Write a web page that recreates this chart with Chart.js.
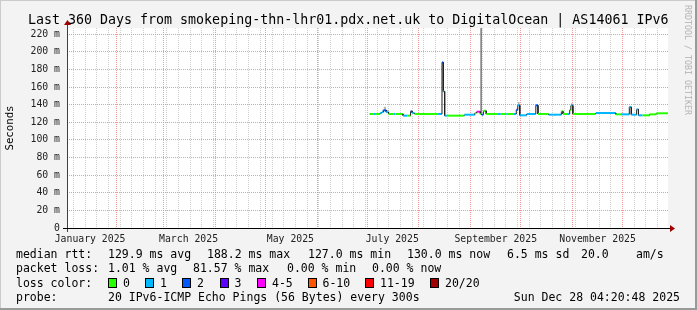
<!DOCTYPE html>
<html><head><meta charset="utf-8">
<script src="https://cdn.jsdelivr.net/npm/chart.js@4/dist/chart.umd.min.js"></script>
<style>
html,body{margin:0;padding:0;background:#f3f3f3;}
#wrap{position:relative;width:697px;height:310px;overflow:hidden;font-family:"DejaVu Sans Mono",monospace;color:#000;}
#c{position:absolute;left:0;top:0;}
.t{position:absolute;white-space:pre;font-size:11.5px;line-height:14px;}
.title{position:absolute;left:28px;top:12px;white-space:pre;font-size:13.3px;line-height:16px;}
.ylab{position:absolute;left:-40px;top:121px;width:100px;text-align:center;font-size:10.7px;line-height:14px;transform:rotate(-90deg);white-space:nowrap;}
.rrd{position:absolute;left:628px;top:55px;width:120px;text-align:center;font-size:8.3px;line-height:10px;color:#b4b4b4;transform:rotate(90deg);white-space:nowrap;}
.sw{position:absolute;width:7px;height:8px;border:1px solid #000;}
</style></head>
<body>
<div id="wrap">
<canvas id="c" width="697" height="310"></canvas>
<div class="title">Last 360 Days from smokeping-thn-lhr01.pdx.net.uk to DigitalOcean | AS14061 IPv6</div>
<div class="ylab">Seconds</div>
<div class="rrd">RRDTOOL / TOBI OETIKER</div>
</div>
<script>
// ---- time axis (days since 1 Jan 2025, local) ----
const START_DAY = 1.18;        // Jan 2 2025 04:20
const END_DAY = 361.18;        // Dec 28 2025 04:20
const MONTH_START_DAYS = [31, 59, 90, 120, 151, 181, 212, 243, 273, 304, 334];
const LABEL_DAYS = [15, 74, 135, 196, 258, 319];
const MONTH_LABELS = ['January 2025', 'March 2025', 'May 2025', 'July 2025', 'September 2025', 'November 2025'];

// ---- measurements (step starts, median rtt in ms, loss bucket, smoke top in ms) ----
const days   = [182.4, 185.0, 186.2, 188.8, 189.8, 190.8, 192.4, 193.8, 196.9, 197.9, 202.5, 204.9, 207.0, 208.0, 209.4, 223.5, 225.8, 226.6, 227.4, 228.7, 239.2, 245.5, 246.6, 248.8, 249.6, 250.6, 252.3, 259.4, 261.0, 263.8, 264.6, 268.5, 270.3, 271.2, 272.4, 276.5, 282.0, 283.3, 289.7, 297.3, 298.3, 300.8, 302.3, 303.0, 304.2, 317.9, 330.0, 333.0, 338.0, 339.2, 342.4, 343.5, 346.0, 350.2, 354.2];
const median = [129.4, 129.4, 129.4, 130.5, 131.5, 133.6, 131.5, 129.4, 129.4, 129.4, 127.5, 127.5, 132.4, 130.5, 129.4, 129.4, 188.0, 155.0, 127.5, 127.5, 128.6, 130.5, 132.0, 129.4, 128.6, 133.0, 129.4, 129.4, 129.4, 129.4, 129.4, 129.4, 134.0, 139.3, 127.9, 129.4, 139.3, 129.4, 128.6, 132.4, 129.4, 129.4, 134.0, 139.0, 129.4, 130.5, 129.0, 129.0, 137.4, 128.6, 134.7, 127.9, 127.9, 129.0, 130.2];
const loss   = [0, 1, 0, 1, 1, 2, 1, 0, 1, 0, 1, 0, 2, 1, 0, 1, 2, 1, 1, 0, 1, 0, 4, 0, 2, 0, 0, 1, 0, 1, 0, 1, 2, 1, 1, 1, 2, 0, 1, 0, 0, 1, 0, 1, 0, 1, 0, 1, 1, 1, 1, 1, 0, 0, 0];
const smoke  = [null, null, null, null, 134.5, 137.5, 134.0, null, null, null, null, null, null, null, null, null, null, null, null, null, null, null, null, 400, null, null, null, null, null, null, null, null, 136.0, 143.0, null, null, null, null, null, null, null, null, null, 141.5, null, null, null, null, 138.5, null, null, null, null, null, null];

const LOSS_COLORS = ['#26ff00', '#00b8ff', '#0059ff', '#5e00ff', '#ff00ff', '#ff5500', '#ff0000', '#a00000'];
const LOSS_LABELS = ['0', '1', '2', '3', '4-5', '6-10', '11-19', '20/20'];

// ---- legend text ----
const LEGEND_ROWS = [
  [[16, 'median rtt:'], [108, '129.9 ms avg'], [207, '188.2 ms max'], [308, '127.0 ms min'], [407, '130.0 ms now'], [507, '6.5 ms sd'], [581, '20.0'], [636, 'am/s']],
  [[16, 'packet loss:'], [108, '1.01 % avg'], [193, '81.57 % max'], [287, '0.00 % min'], [372, '0.00 % now']],
  [[16, 'loss color:']],
  [[16, 'probe:'], [108, '20 IPv6-ICMP Echo Pings (56 Bytes) every 300s']]
];
const SWATCH_X = [108, 145, 182, 219.5, 257, 307.5, 365, 430];
const ROW_TOP = [247, 261, 275.5, 289.5];
const STAMP = 'Sun Dec 28 04:20:48 2025';

const wrap = document.getElementById('wrap');
LEGEND_ROWS.forEach((row, r) => row.forEach(([x, s]) => {
  const d = document.createElement('div'); d.className = 't'; d.style.left = x + 'px'; d.style.top = ROW_TOP[r] + 'px'; d.textContent = s; wrap.appendChild(d);
}));
LOSS_LABELS.forEach((lab, i) => {
  const b = document.createElement('div'); b.className = 'sw'; b.style.left = SWATCH_X[i] + 'px'; b.style.top = '278px'; b.style.background = LOSS_COLORS[i]; wrap.appendChild(b);
  const d = document.createElement('div'); d.className = 't'; d.style.left = (SWATCH_X[i] + 15) + 'px'; d.style.top = ROW_TOP[2] + 'px'; d.textContent = lab; wrap.appendChild(d);
});
{ const d = document.createElement('div'); d.className = 't'; d.style.right = '17px'; d.style.top = ROW_TOP[3] + 'px'; d.textContent = STAMP; wrap.appendChild(d); }

// ---- step points from the arrays ----
function stepPoints(vals) {
  const pts = [];
  for (let i = 0; i < days.length; i++) {
    const x1 = i + 1 < days.length ? days[i + 1] : END_DAY;
    pts.push({ x: days[i], y: vals[i] }, { x: x1, y: vals[i] });
  }
  return pts;
}
const smokeTop = median.map((m, i) => smoke[i] == null ? m : smoke[i]);

// ---- x ticks: month starts (major), Mondays (minor), mid-month labels ----
const tickKind = new Map();
for (let d = 5; d <= END_DAY; d += 7) if (d >= START_DAY) tickKind.set(d, 'minor');
MONTH_START_DAYS.forEach(d => tickKind.set(d, 'major'));
LABEL_DAYS.forEach((d, i) => { if (!tickKind.has(d)) tickKind.set(d, 'label'); });
const labelMap = new Map(LABEL_DAYS.map((d, i) => [d, MONTH_LABELS[i]]));
const xTickValues = [...tickKind.keys()].sort((a, b) => a - b);

const MAJOR = 'rgba(235,120,120,0.75)';
const MINOR = 'rgba(160,160,160,0.5)';
const tickFont = { family: 'DejaVu Sans Mono', size: 9.8 };

const bgPlugin = {
  id: 'bg',
  beforeDraw(chart) {
    const { ctx, chartArea: a, width, height } = chart;
    ctx.save();
    ctx.fillStyle = '#f3f3f3'; ctx.fillRect(0, 0, width, height);
    ctx.fillStyle = '#cbcbcb'; ctx.fillRect(0, 0, width, 1); ctx.fillRect(0, 0, 1, height);
    ctx.fillStyle = '#999999'; ctx.fillRect(0, height - 2, width, 2); ctx.fillRect(width - 2, 0, 2, height);
    ctx.fillStyle = '#ffffff'; ctx.fillRect(a.left, a.top, a.right - a.left, a.bottom - a.top);
    ctx.restore();
  },
  afterDraw(chart) {
    const { ctx, chartArea: a } = chart;
    ctx.save();
    ctx.lineWidth = 1;
    ctx.strokeStyle = '#404040';
    ctx.beginPath(); ctx.moveTo(a.left + 0.5, a.bottom + 4); ctx.lineTo(a.left + 0.5, a.top - 5); ctx.stroke();
    ctx.strokeStyle = '#000';
    ctx.beginPath(); ctx.moveTo(a.left - 4, a.bottom + 0.5); ctx.lineTo(a.right + 3, a.bottom + 0.5); ctx.stroke();
    ctx.fillStyle = '#a00000';
    ctx.beginPath(); ctx.moveTo(a.right + 2, a.bottom - 3); ctx.lineTo(a.right + 7, a.bottom + 0.5); ctx.lineTo(a.right + 2, a.bottom + 4); ctx.closePath(); ctx.fill();
    ctx.beginPath(); ctx.moveTo(a.left - 3, a.top - 3); ctx.lineTo(a.left + 0.5, a.top - 8); ctx.lineTo(a.left + 4, a.top - 3); ctx.closePath(); ctx.fill();
    ctx.restore();
  }
};

new Chart(document.getElementById('c'), {
  type: 'line',
  data: {
    datasets: [
      {
        data: stepPoints(median),
        borderWidth: 2,
        pointRadius: 0,
        tension: 0,
        fill: false,
        segment: {
          borderColor: c => c.p0.parsed.x === c.p1.parsed.x ? '#202020' : LOSS_COLORS[loss[Math.floor(c.p0DataIndex / 2)]],
          borderWidth: c => c.p0.parsed.x === c.p1.parsed.x ? 1 : 2
        }
      },
      {
        data: stepPoints(smokeTop),
        borderWidth: 0,
        pointRadius: 0,
        tension: 0,
        fill: { target: 0 },
        backgroundColor: 'rgba(0,0,0,0.28)',
        segment: {
          backgroundColor: c => (smokeTop[Math.floor(c.p0DataIndex / 2)] - median[Math.floor(c.p0DataIndex / 2)] > 50) ? 'rgba(25,25,25,1)' : 'rgba(0,0,0,0.28)'
        }
      }
    ]
  },
  options: {
    responsive: false,
    animation: false,
    events: [],
    layout: { padding: { top: 28, right: 29, left: 0, bottom: 0 } },
    plugins: { legend: { display: false }, title: { display: false }, tooltip: { enabled: false } },
    scales: {
      x: {
        type: 'linear', min: START_DAY, max: END_DAY,
        afterBuildTicks: s => { s.ticks = xTickValues.map(v => ({ value: v })); },
        afterFit: s => { s.height = 82; },
        ticks: { autoSkip: false, maxRotation: 0, minRotation: 0, padding: 6, color: '#222', font: tickFont,
          callback: v => labelMap.get(v) || '' },
        grid: { drawTicks: false, lineWidth: 1,
          color: c => { const k = tickKind.get(c.tick && c.tick.value); return k === 'major' ? MAJOR : k === 'minor' ? MINOR : 'rgba(0,0,0,0)'; } },
        border: { display: false, dash: [1, 1] }
      },
      y: {
        min: 0, max: 227,
        afterFit: s => { s.width = 67; },
        ticks: { stepSize: 10, includeBounds: false, padding: 7, color: '#222', font: tickFont,
          callback: v => v % 20 === 0 ? (v === 0 ? '0' : v + ' m') : '' },
        grid: { drawTicks: false, lineWidth: 1,
          color: c => (c.tick && c.tick.value % 20 === 0) ? MAJOR : MINOR },
        border: { display: false, dash: [1, 1] }
      }
    }
  },
  plugins: [bgPlugin]
});
</script>
</body></html>
